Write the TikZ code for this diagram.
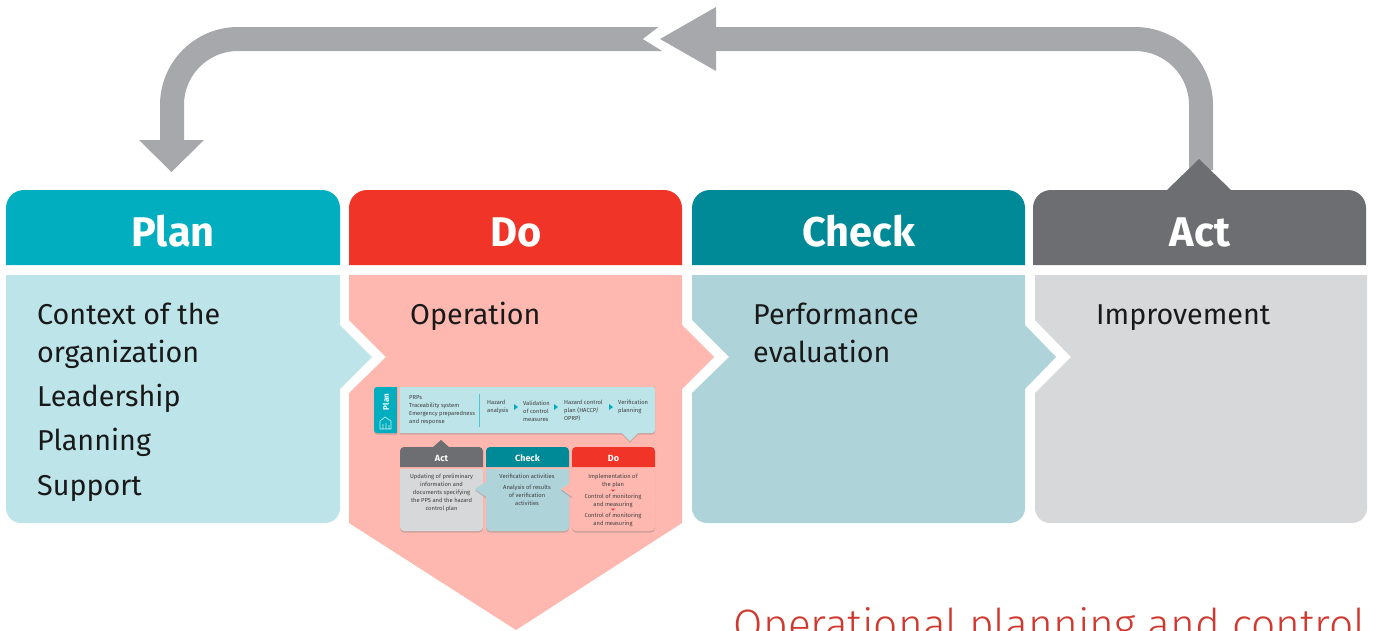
\documentclass[tikz,border=0pt]{standalone}
\usepackage{fontspec}
\setmainfont{Fira Sans}
\newfontfamily\lightfont{Fira Sans Light}
\usetikzlibrary{shadows}
\definecolor{planC}{HTML}{00AEBF}
\definecolor{doC}{HTML}{F03427}
\definecolor{checkC}{HTML}{008996}
\definecolor{actC}{HTML}{6D6E71}
\definecolor{planB}{HTML}{BCE4E9}
\definecolor{doB}{HTML}{FFB8AF}
\definecolor{checkB}{HTML}{AED4DA}
\definecolor{actB}{HTML}{D7D8DA}
\definecolor{loopC}{HTML}{A7A8AB}
\definecolor{titleC}{HTML}{CF3A30}
\tikzset{
  head/.style={inner sep=0pt,anchor=base,text=white,font=\fontsize{41.5}{42}\selectfont\bfseries},
  body/.style={inner sep=0pt,anchor=base west,text=black!90,font=\fontsize{28.7}{29}\selectfont},
  minitext/.style={inner sep=0pt,text=black!75,font=\fontsize{5.8}{8}\selectfont},
  minihead/.style={inner sep=0pt,text=white,font=\fontsize{9}{9}\selectfont\bfseries},
  shade/.style={drop shadow={opacity=.4,shadow xshift=0pt,shadow yshift=-1.5pt}},
  loopline/.style={draw=loopC,line width=24pt,rounded corners=66pt},
}
\begin{document}
\begin{tikzpicture}[x=1pt,y=-1pt]
\useasboundingbox (0,0) rectangle (1381,630);
\clip (0,0) rectangle (1381,630);
% loop arrow
\coordinate (loopstart) at (1201,170);
\coordinate (loophead) at (716,39);
\coordinate (looptail) at (668,39);
\coordinate (loopend) at (172,142);
\draw[loopline] (loopstart) -- (1201,39) -- (loophead);
\draw[loopline] (looptail) -- (172,39) -- (loopend);
\fill[white] (660,26) -- (643,39) -- (664,52) -- (672,52) -- (672,26) -- cycle;
\fill[loopC] (716,7) -- (660,39) -- (716,71) -- cycle;
\fill[loopC] (139,140) -- (204,140) -- (171.5,172) -- cycle;
% headers
\fill[planC] (6,265) [rounded corners=18pt] -- (6,190) -- (340,190) [sharp corners] -- (340,265) -- cycle;
\fill[doC] (349,265) [rounded corners=18pt] -- (349,190) -- (682,190) [sharp corners] -- (682,265) -- cycle;
\fill[checkC] (692,265) [rounded corners=18pt] -- (692,190) -- (1025,190) [sharp corners] -- (1025,265) -- cycle;
\fill[actC] (1033,265) [rounded corners=18pt] -- (1033,190) [sharp corners] -- (1167,190) -- (1199,159) -- (1231,190) [rounded corners=18pt] -- (1366,190) [sharp corners] -- (1366,265) -- cycle;
\node[head] (planH) at (173,246) {Plan};
\node[head] (doH) at (516,246) {Do};
\node[head] (checkH) at (859,246) {Check};
\node[head] (actH) at (1200,246) {Act};
% bodies
\fill[actB] (1035,275) -- (1367,275) [rounded corners=15pt] -- (1367,523) -- (1035,523) [sharp corners] -- (1035,393) -- (1071,357) -- (1035,320) -- cycle;
\fill[checkB] (692,275) -- (1025,275) -- (1025,325) -- (1056,357) -- (1025,389) [rounded corners=15pt] -- (1025,523) -- (692,523) [sharp corners] -- (692,393) -- (729,357) -- (692,320) -- cycle;
\fill[doB] (349,275) -- (682,275) -- (682,325) -- (714,357) -- (682,389) -- (682,523) -- (516,630) -- (349,523) -- (349,393) -- (386,357) -- (349,320) -- cycle;
\fill[planB] (6,275) -- (340,275) -- (340,325) -- (372,357) -- (340,389) [rounded corners=15pt] -- (340,523) -- (6,523) [sharp corners] -- cycle;
\node[body] (p1) at (37,324) {Context of the};
\node[body] (p2) at (37,362) {organization};
\node[body] (p3) at (37,406) {Leadership};
\node[body] (p4) at (37,450) {Planning};
\node[body] (p5) at (37,495) {Support};
\node[body] (d1) at (410,324) {Operation};
\node[body] (c1) at (753,324) {Performance};
\node[body] (c2) at (753,362) {evaluation};
\node[body] (a1) at (1096,324) {Improvement};
% inset
\fill[planC,shade] (397,387) [rounded corners=3pt] -- (374,387) -- (374,433) [sharp corners] -- (397,433) -- cycle;
\fill[planB,shade] (400,387) [rounded corners=3pt] -- (655,387) -- (655,433) [sharp corners] -- (638,433) -- (630,441) -- (622,433) -- (400,433) -- cycle;
\node[inner sep=0pt,text=white,rotate=90,font=\fontsize{8}{8}\selectfont\bfseries] (miniPlan) at (386,402) {Plan};
\draw[white,line width=.6pt,opacity=.8] (380,429) -- (380,421) -- (385,417) -- (391,421) -- (391,429) -- cycle (383,429) -- (383,424) (386,429) -- (386,423) (389,429) -- (389,425);
\draw[planC!70,line width=1pt] (479,394) -- (479,427);
\node[minitext,anchor=west,align=left] (mp1) at (409,410) {PRPs\\Traceability system\\Emergency preparedness\\and response};
\node[minitext,anchor=west,align=left] (mp2) at (487,407) {Hazard\\analysis};
\node[minitext,anchor=west,align=left] (mp3) at (523,411) {Validation\\of control\\measures};
\node[minitext,anchor=west,align=left] (mp4) at (564,411) {Hazard control\\plan (HACCP/\\OPRP)};
\node[minitext,anchor=west,align=left] (mp5) at (618,407) {Verification\\planning};
\fill[planC] (514,404) -- (518,407) -- (514,410) -- cycle;
\fill[planC] (554,404) -- (558,407) -- (554,410) -- cycle;
\fill[planC] (609,404) -- (613,407) -- (609,410) -- cycle;
% inset columns
\fill[actB,shade] (400,469) -- (483,469) [rounded corners=4pt] -- (483,531) -- (400,531) [sharp corners] -- cycle;
\fill[actC] (400,467) [rounded corners=4pt] -- (400,447) [sharp corners] -- (433,447) -- (441,440) -- (449,447) [rounded corners=4pt] -- (483,447) [sharp corners] -- (483,467) -- cycle;
\fill[checkB,shade] (486,469) -- (569,469) [rounded corners=4pt] -- (569,531) -- (486,531) [sharp corners] -- (486,497) -- (475,489) -- (486,482) -- cycle;
\fill[checkC] (486,467) [rounded corners=4pt] -- (486,447) -- (569,447) [sharp corners] -- (569,467) -- cycle;
\fill[doB,shade] (572,469) -- (655,469) [rounded corners=4pt] -- (655,531) -- (572,531) [sharp corners] -- (572,497) -- (561,489) -- (572,482) -- cycle;
\fill[doC] (572,467) [rounded corners=4pt] -- (572,447) -- (655,447) [sharp corners] -- (655,467) -- cycle;
\node[minihead] (mAct) at (441.5,458) {Act};
\node[minihead] (mCheck) at (527.5,458) {Check};
\node[minihead] (mDo) at (613.5,458) {Do};
\node[minitext,anchor=north,align=center] (ma) at (441.5,474) {Updating of preliminary\\information and\\documents specifying\\the PPS and the hazard\\control plan};
\node[minitext,anchor=center] (mc1) at (527,476) {Verification activities};
\node[minitext,anchor=north,align=center] (mc2) at (527,485) {Analysis of results\\of verification\\activities};
\node[minitext,anchor=north,align=center] (md1) at (613,474) {Implementation of\\the plan};
\node[minitext,anchor=north,align=center] (md2) at (613,494) {Control of monitoring\\and measuring};
\node[minitext,anchor=north,align=center] (md3) at (613,513) {Control of monitoring\\and measuring};
\fill[doC] (611,489.5) -- (615,489.5) -- (613,491.5) -- cycle;
\fill[doC] (611,508.5) -- (615,508.5) -- (613,510.5) -- cycle;
% title
\node[inner sep=0pt,anchor=base east,text=titleC,font=\fontsize{42.5}{43}\selectfont\lightfont] (title) at (1366,639.5) {Operational planning and control};
\end{tikzpicture}
\end{document}
